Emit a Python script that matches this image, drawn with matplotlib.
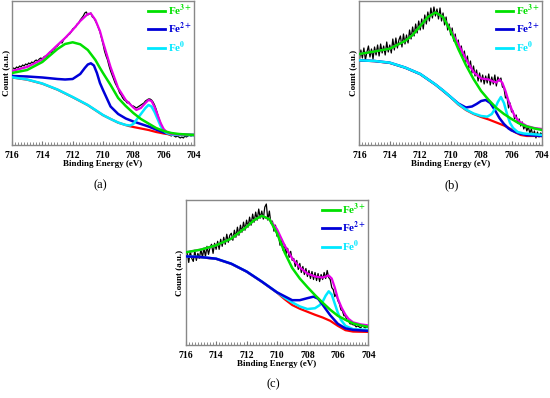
import numpy as np
import matplotlib.pyplot as plt
from matplotlib.ticker import MultipleLocator

plt.rcParams['font.family'] = ['Liberation Serif', 'DejaVu Serif']
plt.rcParams['mathtext.fontset'] = 'stix'

# binding energy grid of the measured spectra (0.1 eV steps)
E_data = np.linspace(716, 704, 121)

# ---------------- panel (a) ----------------
a_black = [75, 77, 76, 78, 77, 79, 78, 80, 79, 81, 80,
           82, 81, 83, 82, 84, 85, 84, 86, 87, 86,
           88, 89, 88, 91, 93, 92, 95, 96, 98, 99,
           101, 103, 102, 105, 107, 108, 110, 111, 113, 116,
           117, 118, 121, 122, 125, 127, 129, 132, 133, 130,
           131, 132, 128, 127, 124, 121, 117, 113, 107, 101,
           94, 89, 85, 79, 74, 70, 66, 62, 59, 56,
           52, 50, 47, 45, 44, 42, 43, 41, 39, 39,
           38, 37, 38, 39, 40, 41, 42, 44, 45, 46,
           46, 45, 43, 40, 36, 31, 26, 22, 18, 15,
           13, 11, 10.5, 10, 9, 10, 9, 8, 9, 8,
           7, 8, 7, 9, 8, 9, 10, 9, 10, 10]
a_env_E = [716, 715, 714, 713, 712.5, 712, 711.5, 711, 710.8, 710.5, 710.2, 710, 709.5, 709, 708.5,
           708, 707.8, 707.5, 707.2, 707, 706.8, 706.6, 706.4, 706.2, 706, 705.8, 705.5, 705, 704]
a_env = [74, 78, 85.5, 100, 107, 115, 124, 131, 131.5, 125, 114, 103, 78, 57, 45,
         37.5, 35, 37, 42, 45, 44, 38, 30, 22, 16, 13, 11, 10.5, 10]
a_fe3_E = [716, 715, 714, 713, 712.5, 712, 711.5, 711, 710.5, 710.2, 710, 709.5, 709, 708.5,
           708, 707.5, 707, 706.5, 706, 705.5, 705, 704]
a_fe3 = [72, 75, 83, 96, 101, 102.7, 100.7, 95, 85, 77, 72, 60, 47, 39,
         32, 26, 21.5, 17, 14, 12, 11, 10]
a_fe2_E = [716, 715, 714, 713, 712.5, 712, 711.5, 711.2, 711, 710.8, 710.6, 710.4, 710.2, 710,
           709.5, 709, 708.5, 708, 707.5, 707, 706.5, 706, 705.5, 705, 704]
a_fe2 = [69, 68.5, 67.5, 66, 65.5, 66, 71, 77, 80.5, 81.7, 79.5, 72, 62, 55,
         38.5, 31, 26.5, 23.5, 21, 18.5, 15.5, 12.5, 11, 10.3, 10]
a_fe0_E = [716, 715, 714, 713, 712, 711, 710.5, 710, 709.5, 709, 708.5, 708.2, 708, 707.8, 707.5,
           707.2, 707, 706.8, 706.6, 706.4, 706.2, 706, 705.8, 705.5, 705, 704]
a_fe0 = [67.7, 65.5, 61.5, 55.5, 48, 40, 35, 30, 26, 22.5, 20, 19.5, 21, 25, 31,
         37, 40, 38.5, 33, 26, 19, 14.5, 12, 10.5, 10, 10]
a_bg_E = [716, 715, 714, 713, 712, 711, 710, 709, 708.3, 708, 707.5, 707, 706.5, 706, 705.5, 705, 704]
a_bg = [67.5, 65.3, 61.3, 55.3, 47.8, 39.8, 29.8, 22.3, 19, 18, 16.5, 15, 13, 11.5, 10.3, 10, 10]

# ---------------- panel (b) ----------------
b_black = [84, 95, 87, 97, 85, 93, 99, 88, 96, 86, 98,
           90, 100, 89, 101, 92, 99, 90, 103, 93, 100,
           92, 106, 95, 107, 97, 105, 109, 98, 111, 101,
           110, 102, 115, 106, 118, 109, 121, 112, 124, 115,
           126, 116, 130, 121, 133, 124, 137, 127, 138, 129,
           136, 126, 137, 124, 132, 120, 128, 115, 121, 110,
           117, 104, 111, 99, 105, 93, 99, 88, 94, 83,
           89, 77, 84, 72, 79, 69, 75, 64, 72, 63,
           70, 61, 69, 62, 71, 60, 68, 61, 70, 59,
           68, 64, 67, 58, 57, 47, 48, 37, 42, 33,
           34, 26, 30, 22, 26, 19, 23, 16, 20, 14,
           18, 12, 16, 9, 14, 7, 13, 8, 12, 11]
b_fe3_E = [716, 715, 714, 713, 712.5, 712, 711.5, 711, 710.5, 710, 709.5, 709, 708.5,
           708, 707.5, 707, 706.5, 706, 705.5, 705, 704.5, 704]
b_fe3 = [91, 93.5, 96.3, 104, 110, 119, 128, 132.5, 128, 114, 96, 80, 66,
         54, 45, 37, 31, 26, 21.5, 18.5, 16.5, 15]
b_env_E = [716, 715, 714, 713, 712.5, 712, 711.5, 711, 710.5, 710, 709.5, 709, 708.5, 708, 707.5,
           707.2, 707, 706.8, 706.6, 706.4, 706.2, 706, 705.8, 705.5, 705, 704.5, 704]
b_env = [91, 93.5, 96.3, 104, 110, 119, 128, 132.5, 128, 115, 101, 86, 73, 66.5, 65.5,
         63.5, 62.5, 65.5, 62, 54, 44, 36, 29, 23.5, 19, 17, 16]
b_fe2_E = [716, 715, 714, 713, 712, 711, 710.5, 710, 709.5, 709, 708.6, 708.3, 708, 707.7,
           707.4, 707.1, 706.8, 706.5, 706.2, 706, 705.5, 705, 704]
b_fe2 = [84.7, 84, 82.3, 77.5, 71, 60.5, 54.5, 48, 41.5, 37.5, 38.5, 41, 44, 45,
         42, 35, 27, 21, 16.5, 14.5, 11.5, 10, 9]
b_fe0_E = [716, 715, 714, 713, 712, 711, 710.5, 710, 709.5, 709, 708.5, 708, 707.6, 707.3,
           707.1, 706.9, 706.7, 706.5, 706.3, 706.1, 705.9, 705.6, 705.2, 704.5, 704]
b_fe0 = [84.7, 84, 82.3, 77.5, 71, 60.5, 54.5, 48, 41, 35.5, 31.5, 29, 28.3, 31,
         36, 43, 48, 42, 31, 22, 17, 13, 11.5, 10.7, 10]
b_bg_E = [716, 715, 714, 713, 712, 711, 710, 709.5, 709, 708.5, 708, 707.5, 707, 706.5,
          706, 705.8, 705.4, 705, 704]
b_bg = [84.5, 83.8, 82, 77.3, 70.8, 60.3, 47.8, 40.5, 35, 31, 28, 25.5, 22.5, 19.5,
        15.5, 13, 10, 9, 9]

# ---------------- panel (c) ----------------
c_black = [84, 92, 82, 93, 86, 83, 94, 84, 91, 86, 95,
           87, 96, 88, 98, 90, 97, 100, 91, 101, 95,
           103, 95, 105, 98, 107, 100, 110, 102, 109, 111,
           104, 114, 107, 117, 109, 119, 112, 122, 114, 124,
           117, 127, 119, 130, 122, 132, 124, 135, 126, 133,
           125, 137, 140, 124, 133, 121, 123, 113, 119, 108,
           109, 99, 105, 94, 100, 90, 96, 87, 93, 84,
           86, 78, 84, 75, 81, 72, 78, 70, 76, 68,
           74, 66, 73, 65, 72, 64, 71, 63, 70, 65,
           72, 66, 74, 67, 65, 57, 55, 48, 51, 44,
           41, 35, 34, 29, 29, 24, 24, 21, 21, 20,
           20, 18, 19, 18, 17, 19, 18, 17, 18, 18]
c_fe3_E = [716, 715, 714, 713, 712, 711.5, 711, 710.5, 710, 709.5, 709, 708.5,
           708, 707.5, 707, 706.5, 706, 705.5, 705, 704.5, 704]
c_fe3 = [92, 94.7, 99, 105.7, 117.3, 124, 128.3, 125, 111, 92, 76.5, 66,
         57.5, 49.5, 42, 35, 29, 25, 21.5, 19.5, 18]
c_env_E = [716, 715, 714, 713, 712, 711.5, 711, 710.5, 710, 709.5, 709, 708.5, 708, 707.5,
           707, 706.6, 706.4, 706.2, 706, 705.75, 705.5, 705.3, 705, 704.5, 704]
c_env = [92, 94.7, 99, 105.7, 117.3, 124, 128.3, 125, 115, 99, 86, 77, 71, 68,
         67, 69, 66, 57, 46, 37, 30, 26, 22.5, 20.5, 19.5]
c_fe2_E = [716, 715, 714, 713, 712, 711, 710, 709, 708.5, 708, 707.6, 707.3, 707, 706.5,
           706, 705.5, 705, 704]
c_fe2 = [88, 87.3, 85.7, 80.7, 73, 63, 52.3, 44.5, 44.5, 46.5, 48, 46, 40, 29.5,
         21, 16.5, 15, 14]
c_fe0_E = [716, 715, 714, 713, 712, 711, 710, 709.5, 709, 708.5, 708, 707.5, 707.2, 707,
           706.8, 706.6, 706.4, 706.2, 706, 705.8, 705.5, 705, 704]
c_fe0 = [88, 87.3, 85.7, 80.7, 73, 63, 52.3, 47, 42.3, 38.3, 35.7, 36.5, 39.5, 43,
         49, 53.3, 50, 41, 32, 25, 19, 15.7, 15]
c_bg_E = [716, 715, 714, 713, 712, 711, 710, 709.5, 709, 708.5, 708, 707.5, 707, 706.5,
          706, 705.5, 705, 704]
c_bg = [87.8, 87.1, 85.5, 80.5, 72.8, 62.8, 52, 45.5, 39.7, 36, 33, 30, 27.3, 24,
        19, 14.7, 13.3, 13]

GREEN = '#00e000'
BLUE = '#0000d8'
CYAN = '#00e8ff'
MAGENTA = '#e600e6'
RED = '#ff0000'


def draw_panel(ax, black, bg, fe0, fe2, fe3, env, blue_over_cyan):
    ax.plot(E_data, black, color='black', lw=0.9, zorder=2)
    ax.plot(bg[0], bg[1], color=RED, lw=1.6, zorder=3)
    z_cyan, z_blue = (4, 5) if blue_over_cyan else (5, 4)
    ax.plot(env[0], env[1], color=MAGENTA, lw=1.6, zorder=6)
    l3, = ax.plot(fe3[0], fe3[1], color=GREEN, lw=1.8, zorder=7, label=r'Fe$^{\mathbf{3+}}$')
    l2, = ax.plot(fe2[0], fe2[1], color=BLUE, lw=1.8, zorder=z_blue, label=r'Fe$^{\mathbf{2+}}$')
    l0, = ax.plot(fe0[0], fe0[1], color=CYAN, lw=1.8, zorder=z_cyan, label=r'Fe$^{\mathbf{0}}$')

    ax.set_xlim(716, 704)
    ax.set_ylim(0, 144)
    ax.set_yticks([])
    ax.xaxis.set_major_locator(MultipleLocator(2))
    ax.xaxis.set_minor_locator(MultipleLocator(0.2))
    ax.tick_params(axis='x', which='major', direction='in', length=3, width=0.8,
                   color='#777777', labelsize=7, pad=4)
    ax.tick_params(axis='x', which='minor', direction='in', length=2, width=0.6, color='#777777')
    for lab in ax.get_xticklabels():
        lab.set_fontweight('bold')
    for sp in ax.spines.values():
        sp.set_color('#888888')
        sp.set_linewidth(1.0)
    ax.set_xlabel('Binding Energy (eV)', fontsize=6.5, fontweight='bold', labelpad=0.5)
    ax.set_ylabel('Count (a.u.)', fontsize=6.5, fontweight='bold', labelpad=1.5)
    leg = ax.legend(handles=[l3, l2, l0], loc='upper right', frameon=False,
                    prop={'size': 8, 'weight': 'bold'},
                    labelcolor='linecolor', handlelength=1.6, handletextpad=0.25,
                    labelspacing=0.3, borderpad=0.1, borderaxespad=0.05,
                    bbox_to_anchor=(1.0, 1.0))
    for line in leg.get_lines():
        line.set_linewidth(2.0)


fig = plt.figure(figsize=(5.5, 3.98), dpi=100)
ax_a = fig.add_axes([0.0218, 0.6357, 0.3309, 0.3618])
ax_b = fig.add_axes([0.6533, 0.6357, 0.3322, 0.3618])
ax_c = fig.add_axes([0.3376, 0.1332, 0.3320, 0.3643])

draw_panel(ax_a, a_black, (a_bg_E, a_bg), (a_fe0_E, a_fe0), (a_fe2_E, a_fe2),
           (a_fe3_E, a_fe3), (a_env_E, a_env), blue_over_cyan=False)
draw_panel(ax_b, b_black, (b_bg_E, b_bg), (b_fe0_E, b_fe0), (b_fe2_E, b_fe2),
           (b_fe3_E, b_fe3), (b_env_E, b_env), blue_over_cyan=False)
draw_panel(ax_c, c_black, (c_bg_E, c_bg), (c_fe0_E, c_fe0), (c_fe2_E, c_fe2),
           (c_fe3_E, c_fe3), (c_env_E, c_env), blue_over_cyan=True)

fig.text(100 / 550, 1 - 185 / 398, '(a)', ha='center', va='center', fontsize=9)
fig.text(452 / 550, 1 - 185 / 398, '(b)', ha='center', va='center', fontsize=9)
fig.text(273 / 550, 1 - 384 / 398, '(c)', ha='center', va='center', fontsize=9)

fig.savefig('out.png', dpi=100)
